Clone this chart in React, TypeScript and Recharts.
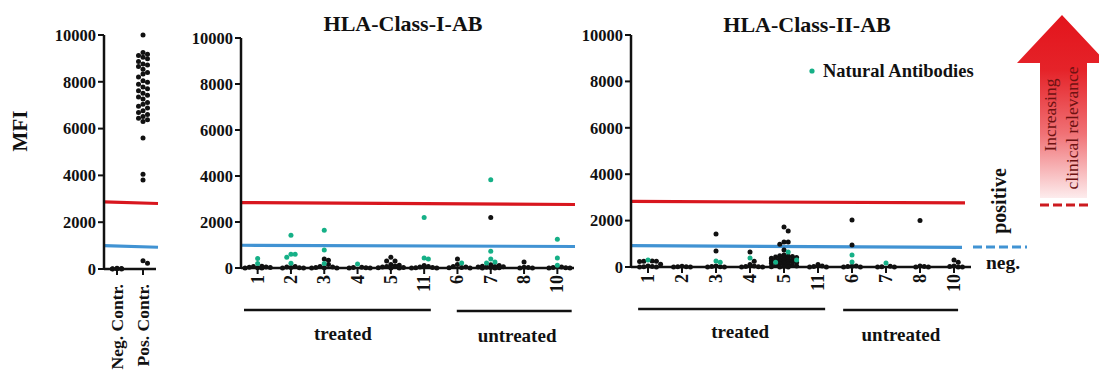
import React from 'react';
import { ScatterChart, Scatter, XAxis, YAxis, ReferenceLine } from 'recharts';

const FONT = '"Liberation Serif", "Times New Roman", Times, serif';
const INK = '#111111';
const GREEN = '#16b087';
const RED = '#d8161e';
const BLUE = '#4193d3';

// ---------- data ----------
const yTicks = [0, 2000, 4000, 6000, 8000, 10000];

const controlLabels = ['Neg. Contr.', 'Pos. Contr.'];
const negControlValues = [0, 10, 20, 0, 30, 15];
const posControlValues = [
  10000, 9250, 9180, 9120, 9050, 8980, 8870, 8760, 8720, 8650, 8540, 8400, 8330, 8210,
  8050, 7980, 7900, 7780, 7700, 7620, 7510, 7430, 7350, 7260, 7120, 7040, 6950, 6880,
  6760, 6690, 6600, 6520, 6440, 6380, 6300, 5600, 4050, 3800, 350, 250,
];

const patientLabels = ['1', '2', '3', '4', '5', '11', '6', '7', '8', '10'];

const classIOther: number[][] = [
  [0, 15, 30, 45, 60, 20, 0, 80],
  [0, 20, 40, 10, 60, 0],
  [390, 340, 0, 25, 45, 60, 15, 150, 0],
  [0, 20, 35, 10, 0],
  [470, 300, 300, 0, 20, 40, 60, 90, 150, 10, 0, 120],
  [0, 20, 40, 10, 70, 110, 0],
  [390, 0, 20, 40, 60, 150, 10],
  [2200, 0, 15, 30, 45, 60, 80, 110, 0, 25, 140, 50],
  [260, 0, 20, 35, 0],
  [0, 20, 40, 10, 0],
];
const classINatural: number[][] = [
  [410, 200],
  [1420, 600, 600, 470, 210],
  [1640, 780, 200],
  [170],
  [],
  [2200, 430, 390],
  [215],
  [3840, 730, 390, 260, 215],
  [],
  [1250, 430, 120],
];

const classIIOther: number[][] = [
  [250, 250, 240, 260, 0, 20, 40, 10, 0, 120],
  [0, 15, 30, 10, 0],
  [1420, 690, 0, 20, 40, 10, 0],
  [650, 250, 0, 20, 40, 10, 0, 110],
  [1720, 1550, 1080, 1080, 980, 730, 520, 490, 460, 430, 410, 380, 360, 340, 310, 290, 270,
    240, 220, 190, 170, 140, 120, 90, 60, 40, 20, 0, 0, 10, 450, 380, 300, 250, 160],
  [0, 20, 40, 0, 110],
  [2030, 950, 0, 20, 40, 0, 30],
  [0, 15, 30, 0],
  [2000, 0, 20, 40, 0],
  [300, 200, 0, 20, 40, 0],
];
const classIINatural: number[][] = [
  [300], [], [260, 200], [390], [650, 300, 200], [], [520, 215], [170], [], [],
];

// cut-off lines: [value at left end, value at right end]
const controlPositiveCutoff = [2870, 2800];
const controlNegativeCutoff = [1000, 930];
const classIPositiveCutoff = [2845, 2760];
const classINegativeCutoff = [990, 935];
const classIIPositiveCutoff = [2830, 2760];
const classIINegativeCutoff = [920, 850];

// ---------- layout helpers ----------
type Item = { v: number; g: boolean };
type Pt = { x: number; y: number };

function placeCategory(items: Item[], center: number, pxX: number, pxY: number, step: number, maxHalf: number) {
  const placed: { ox: number; py: number; v: number; g: boolean }[] = [];
  const sorted = [...items].sort((a, b) => b.v - a.v);
  const cands: number[] = [0];
  for (let k = 1; k * step <= maxHalf + 0.01; k++) cands.push(k * step, -k * step);
  for (const it of sorted) {
    const py = it.v * pxY;
    let best = 0;
    let bestD = -1;
    for (const c of cands) {
      let md = Infinity;
      for (const p of placed) {
        const d = Math.hypot(c - p.ox, py - p.py);
        if (d < md) md = d;
      }
      if (md >= step) { best = c; break; }
      if (md > bestD) { bestD = md; best = c; }
    }
    placed.push({ ox: best, py, v: it.v, g: it.g });
  }
  return placed.map((p) => ({ x: center + p.ox / pxX, y: p.v, g: p.g }));
}

type PanelCfg = {
  left: number; width: number; top: number; bottom: number; axisX: number; plotRight: number;
};

const panelA: PanelCfg = { left: 0, width: 170, top: 35, bottom: 269, axisX: 104, plotRight: 156 };
const panelB: PanelCfg = { left: 170, width: 410, top: 38, bottom: 268, axisX: 241, plotRight: 574 };
const panelC: PanelCfg = { left: 560, width: 420, top: 35, bottom: 267, axisX: 631, plotRight: 971 };

const bandOf = (cfg: PanelCfg, n: number) => (cfg.plotRight - cfg.axisX) / n;

function Dot(fill: string) {
  return (p: any) => <circle cx={p.cx} cy={p.cy} r={2.5} fill={fill} />;
}

function Panel(props: {
  cfg: PanelCfg; labels: string[]; other: number[][]; natural: number[][];
  pos: number[]; neg: number[]; posEnd: number; negEnd: number;
  tickDy: number; tickFont: number; step: number; maxHalf: number;
}) {
  const { cfg, labels } = props;
  const n = labels.length;
  const band = bandOf(cfg, n);
  const pxY = (cfg.bottom - cfg.top) / 10000;
  const blackPts: Pt[] = [];
  const greenPts: Pt[] = [];
  labels.forEach((_, i) => {
    const items: Item[] = [
      ...props.other[i].map((v) => ({ v, g: false })),
      ...props.natural[i].map((v) => ({ v, g: true })),
    ];
    placeCategory(items, i + 0.5, band, pxY, props.step, props.maxHalf).forEach((p) => {
      (p.g ? greenPts : blackPts).push({ x: p.x, y: p.y });
    });
  });
  const ticks = labels.map((_, i) => i + 0.5);
  const RotTick = (tp: any) => {
    const x = tp.x;
    const y = tp.y + props.tickDy;
    const idx = Math.floor(tp.payload.value);
    return (
      <text x={x} y={y} transform={`rotate(-90, ${x}, ${y})`} textAnchor="end" dominantBaseline="central"
        fontFamily={FONT} fontWeight="bold" fontSize={props.tickFont} fill={INK}>
        {labels[idx]}
      </text>
    );
  };
  return (
    <div style={{ position: 'absolute', left: cfg.left, top: 0 }}>
      <ScatterChart width={cfg.width} height={374}
        margin={{ top: cfg.top, right: cfg.left + cfg.width - cfg.plotRight, bottom: 0, left: 0 }}>
        <XAxis type="number" dataKey="x" domain={[0, n]} ticks={ticks} interval={0}
          height={374 - cfg.bottom} axisLine={{ stroke: INK, strokeWidth: 2.5 }}
          tickLine={{ stroke: INK, strokeWidth: 2 }} tickSize={6} tick={RotTick} />
        <YAxis type="number" dataKey="y" domain={[0, 10000]} ticks={yTicks} interval={0}
          width={cfg.axisX - cfg.left} axisLine={{ stroke: INK, strokeWidth: 2.5 }}
          tickLine={{ stroke: INK, strokeWidth: 2 }} tickSize={6}
          tick={{ fontFamily: FONT, fontWeight: 'bold', fontSize: 16.5, fill: INK }} />
        <ReferenceLine segment={[{ x: 0, y: props.pos[0] }, { x: props.posEnd, y: props.pos[1] }]}
          stroke={RED} strokeWidth={3.2} ifOverflow="visible" />
        <ReferenceLine segment={[{ x: 0, y: props.neg[0] }, { x: props.negEnd, y: props.neg[1] }]}
          stroke={BLUE} strokeWidth={3.2} ifOverflow="visible" />
        <Scatter data={blackPts} fill={INK} shape={Dot(INK)} isAnimationActive={false} />
        <Scatter data={greenPts} fill={GREEN} shape={Dot(GREEN)} isAnimationActive={false} />
      </ScatterChart>
    </div>
  );
}

function GroupBars({ cfg, n, treated, untreated, treatedLabel, untreatedLabel }: {
  cfg: PanelCfg; n: number; treated: number[]; untreated: number[]; treatedLabel: number[]; untreatedLabel: number[];
}) {
  const band = bandOf(cfg, n);
  const px = (u: number) => cfg.axisX + u * band;
  const txt = { fontFamily: FONT, fontWeight: 'bold' as const, fontSize: 19, fill: INK, textAnchor: 'middle' as const };
  return (
    <g>
      <line x1={px(treated[0])} x2={px(treated[1])} y1={treated[2]} y2={treated[2]} stroke={INK} strokeWidth={2.6} />
      <line x1={px(untreated[0])} x2={px(untreated[1])} y1={untreated[2]} y2={untreated[2]} stroke={INK} strokeWidth={2.6} />
      <text x={px(treatedLabel[0])} y={treatedLabel[1]} {...txt}>treated</text>
      <text x={px(untreatedLabel[0])} y={untreatedLabel[1]} {...txt}>untreated</text>
    </g>
  );
}

export default function App() {
  const bandA = bandOf(panelA, 2);
  const bandB = bandOf(panelB, 10);
  const bandC = bandOf(panelC, 10);
  return (
    <div style={{ position: 'absolute', left: 0, top: 0, width: 1099, height: 374, background: '#fff', overflow: 'hidden' }}>
      <Panel cfg={panelA} labels={controlLabels} other={[negControlValues, posControlValues]} natural={[[], []]}
        pos={controlPositiveCutoff} neg={controlNegativeCutoff} posEnd={(158 - panelA.axisX) / bandA}
        negEnd={(158 - panelA.axisX) / bandA} tickDy={7} tickFont={17.5} step={4.5} maxHalf={6} />
      <Panel cfg={panelB} labels={patientLabels} other={classIOther} natural={classINatural}
        pos={classIPositiveCutoff} neg={classINegativeCutoff} posEnd={(575 - panelB.axisX) / bandB}
        negEnd={(575 - panelB.axisX) / bandB} tickDy={-1} tickFont={18} step={4.2} maxHalf={12.6} />
      <Panel cfg={panelC} labels={patientLabels} other={classIIOther} natural={classIINatural}
        pos={classIIPositiveCutoff} neg={classIINegativeCutoff} posEnd={(965 - panelC.axisX) / bandC}
        negEnd={(962 - panelC.axisX) / bandC} tickDy={-1} tickFont={18} step={4.2} maxHalf={12.6} />
      <svg width={1099} height={374} style={{ position: 'absolute', left: 0, top: 0, pointerEvents: 'none' }}>
        <defs>
          <linearGradient id="arrowGrad" x1="0" y1="0" x2="0" y2="1">
            <stop offset="0%" stopColor="#e3141c" />
            <stop offset="30%" stopColor="#e52329" />
            <stop offset="65%" stopColor="#f07276" />
            <stop offset="100%" stopColor="#fdeced" />
          </linearGradient>
        </defs>
        <text x={20} y={131} transform="rotate(-90, 20, 131)" textAnchor="middle" dominantBaseline="central"
          fontFamily={FONT} fontWeight="bold" fontSize={21} fill={INK}>MFI</text>
        <text x={403} y={31} textAnchor="middle" fontFamily={FONT} fontWeight="bold" fontSize={22} fill={INK}>HLA-Class-I-AB</text>
        <text x={807} y={32} textAnchor="middle" fontFamily={FONT} fontWeight="bold" fontSize={22} fill={INK}>HLA-Class-II-AB</text>
        <circle cx={812} cy={71} r={2.6} fill={GREEN} />
        <text x={823} y={77} fontFamily={FONT} fontWeight="bold" fontSize={18.5} fill={INK}>Natural Antibodies</text>
        <GroupBars cfg={panelB} n={10} treated={[0.09, 5.7, 310]} untreated={[6.48, 9.93, 311]}
          treatedLabel={[3.06, 340]} untreatedLabel={[8.29, 342]} />
        <GroupBars cfg={panelC} n={10} treated={[0.21, 5.71, 309]} untreated={[6.24, 9.62, 310]}
          treatedLabel={[3.21, 338]} untreatedLabel={[7.94, 341]} />
        {/* right-hand legend */}
        <line x1={973} x2={1027} y1={247} y2={247} stroke={BLUE} strokeWidth={3} strokeDasharray="9 4" />
        <text x={986} y={269} fontFamily={FONT} fontWeight="bold" fontSize={19.5} fill={INK}>neg.</text>
        <text x={999} y={201} transform="rotate(-90, 999, 201)" textAnchor="middle" dominantBaseline="central"
          fontFamily={FONT} fontWeight="bold" fontSize={20} fill={INK}>positive</text>
        <polygon points="1062,15 1017,63 1040,63 1040,198 1087,198 1087,63 1107,63" fill="url(#arrowGrad)" />
        <line x1={1040} x2={1088} y1={205} y2={205} stroke="#cc1a1f" strokeWidth={3} strokeDasharray="9 4" />
        <text x={1050} y={115} transform="rotate(-90, 1050, 115)" textAnchor="middle" dominantBaseline="central"
          fontFamily={FONT} fontSize={17.5} fill="#6e1212">Increasing</text>
        <text x={1072} y={128} transform="rotate(-90, 1072, 128)" textAnchor="middle" dominantBaseline="central"
          fontFamily={FONT} fontSize={17.5} fill="#6e1212">clinical relevance</text>
      </svg>
    </div>
  );
}
